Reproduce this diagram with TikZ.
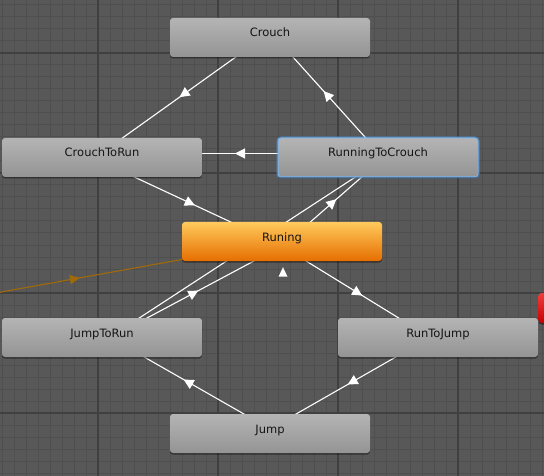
\documentclass[tikz,border=0pt]{standalone}
\usepackage{fontspec}
\setmainfont{DejaVu Sans}
\usetikzlibrary{calc,arrows.meta,decorations.markings,shadows}
\definecolor{canvas}{RGB}{88,88,88}
\definecolor{minorgrid}{RGB}{79,79,79}
\definecolor{majorgrid}{RGB}{64,64,64}
\definecolor{stateTop}{RGB}{180,180,180}
\definecolor{stateBottom}{RGB}{148,148,148}
\definecolor{runTop}{RGB}{255,202,92}
\definecolor{runBottom}{RGB}{230,110,0}
\definecolor{exitTop}{RGB}{240,60,60}
\definecolor{exitBottom}{RGB}{200,0,0}
\definecolor{selBlue}{RGB}{84,160,235}
\definecolor{entryLine}{RGB}{160,105,10}
\definecolor{labelText}{RGB}{20,20,20}
\pgfdeclarelayer{background}
\pgfsetlayers{background,main}
\tikzset{
  state/.style={rectangle,rounded corners=3pt,minimum width=200pt,minimum height=39pt,inner sep=0pt,
    top color=stateTop,bottom color=stateBottom,text=labelText,font=\fontsize{11.5pt}{13pt}\selectfont,
    text height=8pt,text depth=9pt,drop shadow={shadow xshift=0pt,shadow yshift=-1.5pt,opacity=0.45,fill=black}},
  selected/.style={draw=selBlue!80!white,line width=1pt,
    preaction={draw=selBlue,line width=3.5pt,opacity=0.35}},
  trans/.style={draw=white,line width=1.1pt,postaction=decorate,
    decoration={markings,mark=at position 0.5 with {\arrow[xshift=5pt,white]{Triangle[length=10pt,width=10pt]}}}},
}
\newcommand{\Link}[2]{\draw[trans] ($(#1.center)!4pt!-90:(#2.center)$) -- ($(#2.center)!4pt!90:(#1.center)$);}
\begin{document}
\begin{tikzpicture}[x=1pt,y=-1pt]
\path[use as bounding box] (0,0) rectangle (544,476);
\node[state] (crouch) at (270,37.5) {Crouch};
\node[state] (ctr) at (102,157.5) {CrouchToRun};
\node[state,selected] (rtc) at (378,157.5) {RunningToCrouch};
\node[state,top color=runTop,bottom color=runBottom] (run) at (282,241.5) {Runing};
\node[state] (jtr) at (102,337.5) {JumpToRun};
\node[state] (rtj) at (438,337.5) {RunToJump};
\node[state] (jump) at (270,433.5) {Jump};
\node[state,minimum height=30pt,top color=exitTop,bottom color=exitBottom] (exit) at (638.5,308) {};
\coordinate (entry) at (-132,316);
\fill[white] ($(run.south)+(1,6)$) -- ++(-4.5,9.5) -- ++(9,0) -- cycle;
\begin{pgfonlayer}{background}
\fill[canvas] (0,0) rectangle (544,476);
\foreach \x in {2,14,...,542} \draw[minorgrid,line width=1pt] (\x,0) -- (\x,476);
\foreach \y in {5,17,...,473} \draw[minorgrid,line width=1pt] (0,\y) -- (544,\y);
\foreach \x in {98,218,338,458} \draw[majorgrid,line width=1.3pt] (\x,0) -- (\x,476);
\foreach \y in {53,173,293,413} \draw[majorgrid,line width=1.3pt] (0,\y) -- (544,\y);
\draw[draw=entryLine,line width=1.1pt,postaction=decorate,
  decoration={markings,mark=at position 0.5 with {\arrow[xshift=5pt,entryLine]{Triangle[length=10pt,width=9pt]}}}]
  (entry) -- (run.center);
\Link{crouch}{ctr}
\Link{rtc}{crouch}
\Link{rtc}{ctr}
\Link{ctr}{run}
\Link{run}{rtc}
\Link{jtr}{rtc}
\Link{jtr}{run}
\Link{run}{rtj}
\Link{rtj}{jump}
\Link{jump}{jtr}
\end{pgfonlayer}
\end{tikzpicture}
\end{document}
